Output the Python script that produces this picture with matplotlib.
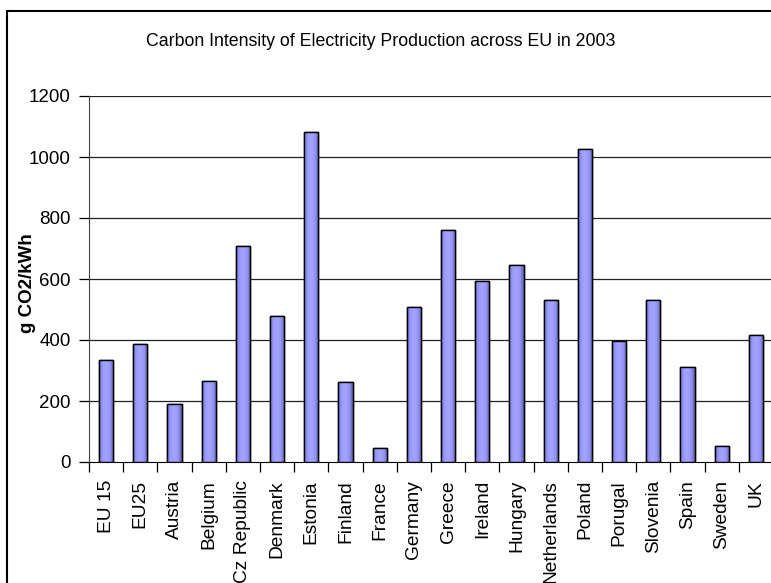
import numpy as np
import matplotlib
matplotlib.use("Agg")
import matplotlib.pyplot as plt
from matplotlib.patches import Rectangle
from matplotlib.colors import LinearSegmentedColormap

# values
countries = ["EU 15", "EU25", "Austria", "Belgium", "Cz Republic", "Denmark",
             "Estonia", "Finland", "France", "Germany", "Greece", "Ireland",
             "Hungary", "Netherlands", "Poland", "Porugal", "Slovenia",
             "Spain", "Sweden", "UK"]
intensity = [335, 387, 190, 264, 708, 478, 1083, 262, 47, 508, 760, 592,
             645, 530, 1026, 396, 530, 312, 51, 418]
yticks = [0, 200, 400, 600, 800, 1000, 1200]

plt.rcParams['font.family'] = ['Liberation Sans', 'DejaVu Sans']

fig = plt.figure(figsize=(7.71, 5.83), dpi=100)
ax = fig.add_axes([89 / 771, 1 - 462 / 583, 684 / 771, 366 / 583])

# outer chart frame (cut off on the right and bottom like the reference)
fig.patches.append(Rectangle((7 / 771, -0.1), 1.2, 1 - 11 / 583 + 0.1,
                             transform=fig.transFigure, fill=False,
                             edgecolor="black", linewidth=1.5))

x = np.arange(len(countries))
bars = ax.bar(x, intensity, width=0.42, color="#9999FF", edgecolor="black",
              linewidth=1.0, zorder=3)

# Excel-like horizontal shading inside each bar
shade = LinearSegmentedColormap.from_list(
    "shade", ["#7070D0", "#9C9CFF", "#A4A4FF", "#9595F5", "#5C5CA8"])
grad = np.linspace(0, 1, 64).reshape(1, -1)
for b in bars:
    im = ax.imshow(grad, cmap=shade, aspect="auto", zorder=3.5,
                   extent=(b.get_x(), b.get_x() + b.get_width(), 0, b.get_height()))
    im.set_clip_path(b)
    edge = Rectangle((b.get_x(), 0), b.get_width(), b.get_height(), fill=False,
                     edgecolor="black", linewidth=1.0, zorder=4)
    ax.add_patch(edge)

ax.set_xlim(-0.5, len(countries) - 0.5)
ax.set_ylim(0, 1200)
ax.set_yticks(yticks)
ax.set_yticklabels([str(v) for v in yticks], fontsize=13.5)
for v in yticks[1:]:
    ax.axhline(v, color="#222222", linewidth=0.9, zorder=1)

ax.set_xticks(x)
ax.set_xticklabels(countries, rotation=90, fontsize=13.8)
ax.set_xticks(np.arange(len(countries) + 1) - 0.5, minor=True)
ax.tick_params(axis="x", which="major", length=0, pad=13)
ax.tick_params(axis="x", which="minor", length=7, direction="out", width=0.9)
ax.tick_params(axis="y", length=7, direction="out", width=0.9, pad=6)

for s in ["top", "right"]:
    ax.spines[s].set_visible(False)
ax.spines["left"].set_color("#444444")
ax.spines["bottom"].set_color("black")

ax.set_ylabel("g CO2/kWh", fontsize=13.5, fontweight="bold")
ax.yaxis.set_label_coords(-0.078, 0.49)

fig.text(381 / 771, 1 - 42 / 583, "Carbon Intensity of Electricity Production across EU in 2003",
         ha="center", va="center", fontsize=12.8)

fig.savefig("out.png", dpi=100)
